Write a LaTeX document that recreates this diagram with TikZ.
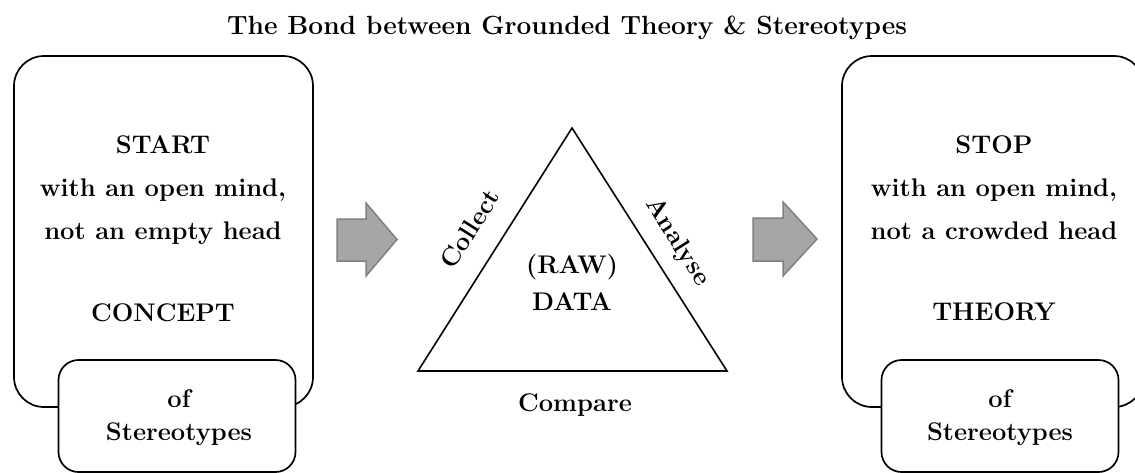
\documentclass[tikz,border=0pt]{standalone}
\usepackage{fontspec}
\usepackage{xcolor}
\definecolor{arrowfill}{RGB}{166,166,166}
\definecolor{arrowborder}{RGB}{128,128,128}
\begin{document}
\begin{tikzpicture}[x=1pt,y=-1pt,
  bigbox/.style={draw, line width=1.7pt, rounded corners=30pt, inner sep=0pt},
  smallbox/.style={draw, fill=white, line width=1.7pt, rounded corners=20pt, inner sep=0pt},
  txt/.style={font=\bfseries\fontsize{25.5}{43}\selectfont, align=center, inner sep=0pt},
  txtb/.style={font=\bfseries\fontsize{25.5}{33}\selectfont, align=center, inner sep=0pt},
  ttl/.style={font=\bfseries\fontsize{26.3}{30}\selectfont, inner sep=0pt},
  blockarrow/.style={draw=arrowborder, fill=arrowfill, line width=1.5pt, line join=miter},
  tri/.style={draw, line width=1.6pt, line join=miter}]
\useasboundingbox (0,0) rectangle (1135,472);
\clip (0,0) rectangle (1135,472);
\node[ttl] (title) at (567,28) {The Bond between Grounded Theory \& Stereotypes};
% left box
\node[bigbox, minimum width=299pt, minimum height=351pt] (L) at (163.5,231.5) {};
\node[smallbox, minimum width=237pt, minimum height=112pt] (Ls) at (177,416) {};
\node[txt] (Ltxt) at (163,190) {START\\with an open mind,\\not an empty head};
\node[txt] (Lc) at (163,313) {CONCEPT};
\node[txtb] (Lst) at (179,418) {of\\Stereotypes};
% right box
\node[bigbox, minimum width=302pt, minimum height=351pt] (R) at (993,231.5) {};
\node[smallbox, minimum width=237pt, minimum height=112pt] (Rs) at (1000,416) {};
\node[txt] (Rtxt) at (994,188) {STOP\\with an open mind,\\not a crowded head};
\node[txt] (Rc) at (994,312) {THEORY};
\node[txtb] (Rst) at (1000,418) {of\\Stereotypes};
% arrows
\draw[blockarrow] (337,219) -- (366,219) -- (366,203) -- (397,239.5) -- (366,276) -- (366,261) -- (337,261) -- cycle;
\draw[blockarrow] (753,218) -- (783,218) -- (783,202) -- (817,239) -- (783,276) -- (783,261) -- (753,261) -- cycle;
% triangle
\coordinate (A) at (418,371);
\coordinate (B) at (572,128);
\coordinate (C) at (727,371);
\draw[tri] (A) -- (B) -- (C) -- cycle;
\node[txt, rotate=57.6] (col) at (470,229) {Collect};
\node[txt, rotate=-57.6] (ana) at (677,242) {Analyse};
\node[txt] (raw) at (572,267) {(RAW)};
\node[txt] (data) at (572,302) {DATA};
\node[txt] (cmp) at (575,405) {Compare};
\end{tikzpicture}
\end{document}
